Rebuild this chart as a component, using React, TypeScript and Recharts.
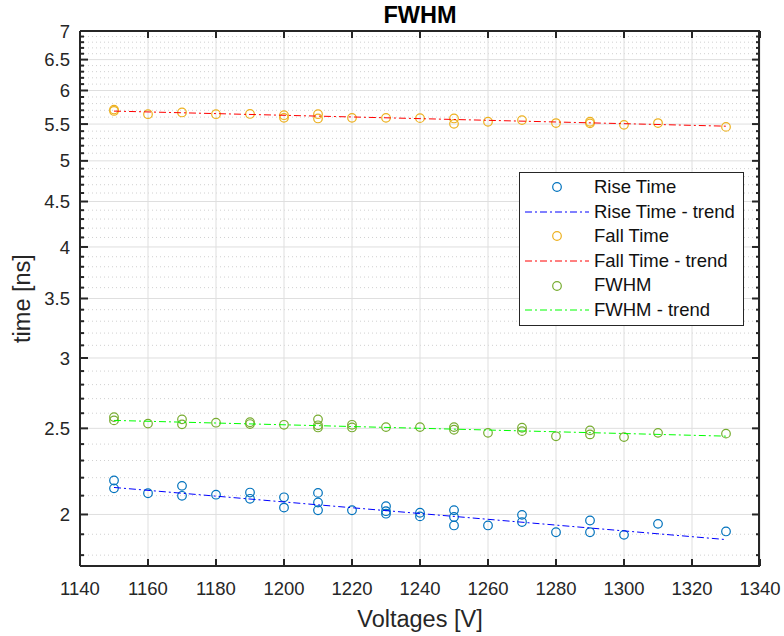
import { ScatterChart, Scatter, XAxis, YAxis, CartesianGrid, Legend } from "recharts";

const FONT = "'Liberation Sans', Arial, Helvetica, sans-serif";
const INK = "#262626";

const xTicks = [1140, 1160, 1180, 1200, 1220, 1240, 1260, 1280, 1300, 1320, 1340];
const yTicks = [2, 2.5, 3, 3.5, 4, 4.5, 5, 5.5, 6, 6.5, 7];
// minor ticks every 0.1 between the labelled ones
const yMinorTicks: number[] = [];
for (let i = 18; i < 70; i++) if (i % 5 !== 0) yMinorTicks.push(i / 10);

const riseVolts = [1150, 1150, 1160, 1170, 1170, 1180, 1190, 1190, 1200, 1200, 1210, 1210, 1210, 1220, 1230, 1230, 1230, 1240, 1240, 1250, 1250, 1250, 1260, 1270, 1270, 1280, 1290, 1290, 1300, 1310, 1330];
const riseTimes = [2.184, 2.14, 2.113, 2.154, 2.099, 2.105, 2.117, 2.083, 2.091, 2.036, 2.115, 2.063, 2.022, 2.022, 2.043, 2.017, 2.004, 2.009, 1.99, 2.022, 1.987, 1.944, 1.944, 1.998, 1.961, 1.91, 1.969, 1.91, 1.897, 1.952, 1.914];

const fallVolts = [1150, 1150, 1160, 1170, 1180, 1190, 1200, 1200, 1210, 1210, 1220, 1230, 1240, 1250, 1250, 1260, 1270, 1280, 1290, 1290, 1300, 1310, 1330];
const fallTimes = [5.71, 5.69, 5.643, 5.668, 5.643, 5.646, 5.628, 5.589, 5.643, 5.581, 5.589, 5.589, 5.585, 5.581, 5.503, 5.533, 5.557, 5.514, 5.533, 5.51, 5.489, 5.514, 5.46];

const fwhmVolts = [1150, 1150, 1160, 1170, 1170, 1180, 1190, 1190, 1200, 1210, 1210, 1210, 1220, 1220, 1230, 1240, 1250, 1250, 1260, 1270, 1270, 1280, 1290, 1290, 1300, 1310, 1330];
const fwhmTimes = [2.574, 2.552, 2.531, 2.559, 2.526, 2.537, 2.54, 2.528, 2.523, 2.559, 2.52, 2.506, 2.523, 2.506, 2.508, 2.508, 2.508, 2.491, 2.471, 2.504, 2.482, 2.449, 2.487, 2.461, 2.444, 2.471, 2.466];

const trendVolts = [1150, 1330];
const riseTrend = [2.145, 1.874];
const fallTrend = [5.688, 5.47];
const fwhmTrend = [2.552, 2.45];

const legendNames = ["Rise Time", "Rise Time - trend", "Fall Time", "Fall Time - trend", "FWHM", "FWHM - trend"];
const legendColors = ["#0072BD", "#0000FF", "#EDB120", "#FF0000", "#77AC30", "#00FF00"];

const toPoints = (vs: number[], ts: number[]) => vs.map((v, i) => ({ v, t: ts[i] }));

const DASH = "7 3 2 3";

const ring = (color: string) => (p: any) =>
  <circle cx={p.cx} cy={p.cy} r={4.3} fill="none" stroke={color} strokeWidth={1.2} />;
const noDot = () => <g />;
// tick={false} drops the ticks entirely (and the grid built on them), so draw empty labels instead
const blankTick = () => <g />;

const tickStyle = { fill: INK, fontSize: 18.5, fontFamily: FONT };
const axisStroke = { stroke: INK, strokeWidth: 2 };
const LABEL_SIZE = 23.5;

const LegendBox = () => (
  <div style={{ border: "1px solid " + INK, background: "#fff", padding: "2px 0", boxSizing: "border-box", width: 225, fontFamily: FONT }}>
    {legendNames.map((name, i) => (
      <div key={name} style={{ display: "flex", alignItems: "center", height: 24.6 }}>
        <svg width={64} height={12} style={{ marginLeft: 5, flexShrink: 0 }}>
          {i % 2 === 0 ? (
            <circle cx={32} cy={6} r={4.3} fill="none" stroke={legendColors[i]} strokeWidth={1.2} />
          ) : (
            <line x1={0} y1={6} x2={64} y2={6} stroke={legendColors[i]} strokeWidth={1} strokeDasharray={DASH} />
          )}
        </svg>
        <span style={{ marginLeft: 5, fontSize: 18.5, color: "#111", lineHeight: 1, whiteSpace: "nowrap" }}>{name}</span>
      </div>
    ))}
  </div>
);

const titleLabel = (p: any) => {
  const vb = p.viewBox || { x: 80, y: 31, width: 680 };
  return (
    <text x={vb.x + vb.width / 2} y={vb.y - 8} textAnchor="middle" fontSize={LABEL_SIZE} fontWeight="bold" fill="#000" fontFamily={FONT}>
      FWHM
    </text>
  );
};

const xLabel = (p: any) => {
  const vb = p.viewBox || { x: 80, y: 566, width: 680 };
  return (
    <text x={vb.x + vb.width / 2} y={vb.y + 61} textAnchor="middle" fontSize={LABEL_SIZE} fill={INK} fontFamily={FONT}>
      Voltages [V]
    </text>
  );
};

const yLabel = (p: any) => {
  const vb = p.viewBox || { x: 20, y: 31, height: 535 };
  const cx = vb.x + 2;
  const cy = vb.y + vb.height / 2;
  return (
    <text x={cx} y={cy} transform={`rotate(-90 ${cx} ${cy})`} textAnchor="middle" dominantBaseline="central" fontSize={LABEL_SIZE} fill={INK} fontFamily={FONT}>
      time [ns]
    </text>
  );
};

const yCommon = {
  type: "number" as const,
  dataKey: "t",
  scale: "log" as const,
  domain: [1.75, 7],
  allowDataOverflow: true,
  interval: 0 as const,
};
const xCommon = {
  type: "number" as const,
  dataKey: "v",
  domain: [1140, 1340],
  ticks: xTicks,
  allowDataOverflow: true,
  interval: 0 as const,
};

// the frame axes only get a scale when some series is bound to them
const frameData = toPoints(trendVolts, fwhmTrend);
const framePairs = [
  ["xt", "yl"],
  ["xb", "minL"],
  ["xt", "yr"],
  ["xb", "minR"],
];

export default function App() {
  return (
    <div style={{ position: "absolute", left: 0, top: 0, background: "#fff", fontFamily: FONT }}>
      <ScatterChart width={784} height={636} margin={{ top: 31, right: 24, bottom: 30, left: 20 }}>
        <CartesianGrid xAxisId="x" yAxisId="minL" vertical={false} stroke="#d0d0d0" strokeDasharray="1 3" />
        <CartesianGrid xAxisId="x" yAxisId="y" stroke="#dfdfdf" />

        <XAxis xAxisId="x" {...xCommon} height={40} tickLine={false} tickSize={0} tickMargin={16} axisLine={axisStroke} tick={tickStyle} label={{ content: xLabel }} />
        <XAxis xAxisId="xt" orientation="top" mirror {...xCommon} height={1} tick={blankTick} tickSize={7} tickLine={axisStroke} axisLine={axisStroke} label={{ content: titleLabel }} />
        <XAxis xAxisId="xb" orientation="bottom" mirror {...xCommon} height={1} tick={blankTick} tickSize={7} tickLine={axisStroke} axisLine={false} />

        <YAxis yAxisId="y" {...yCommon} ticks={yTicks} width={60} tickLine={false} tickSize={0} tickMargin={10} axisLine={axisStroke} tick={tickStyle} label={{ content: yLabel }} />
        <YAxis yAxisId="yl" mirror {...yCommon} ticks={yTicks} width={1} tick={blankTick} tickSize={7} tickLine={axisStroke} axisLine={false} />
        <YAxis yAxisId="minL" mirror {...yCommon} ticks={yMinorTicks} width={1} tick={blankTick} tickSize={4} tickLine={axisStroke} axisLine={false} />
        <YAxis yAxisId="yr" orientation="right" mirror {...yCommon} ticks={yTicks} width={1} tick={blankTick} tickSize={7} tickLine={axisStroke} axisLine={axisStroke} />
        <YAxis yAxisId="minR" orientation="right" mirror {...yCommon} ticks={yMinorTicks} width={1} tick={blankTick} tickSize={4} tickLine={axisStroke} axisLine={false} />

        {framePairs.map(([xa, ya]) => (
          <Scatter key={xa + ya} xAxisId={xa} yAxisId={ya} data={frameData} shape={noDot} legendType="none" isAnimationActive={false} />
        ))}

        <Scatter name="Rise Time" xAxisId="x" yAxisId="y" data={toPoints(riseVolts, riseTimes)} shape={ring("#0072BD")} isAnimationActive={false} />
        <Scatter name="Rise Time - trend" xAxisId="x" yAxisId="y" data={toPoints(trendVolts, riseTrend)} shape={noDot} line={{ stroke: "#0000FF", strokeWidth: 1, strokeDasharray: DASH }} isAnimationActive={false} />
        <Scatter name="Fall Time" xAxisId="x" yAxisId="y" data={toPoints(fallVolts, fallTimes)} shape={ring("#EDB120")} isAnimationActive={false} />
        <Scatter name="Fall Time - trend" xAxisId="x" yAxisId="y" data={toPoints(trendVolts, fallTrend)} shape={noDot} line={{ stroke: "#FF0000", strokeWidth: 1, strokeDasharray: DASH }} isAnimationActive={false} />
        <Scatter name="FWHM" xAxisId="x" yAxisId="y" data={toPoints(fwhmVolts, fwhmTimes)} shape={ring("#77AC30")} isAnimationActive={false} />
        <Scatter name="FWHM - trend" xAxisId="x" yAxisId="y" data={toPoints(trendVolts, fwhmTrend)} shape={noDot} line={{ stroke: "#00FF00", strokeWidth: 1, strokeDasharray: DASH }} isAnimationActive={false} />

        <Legend layout="vertical" align="center" verticalAlign="middle" content={LegendBox} wrapperStyle={{ left: 519, top: 172, width: 225 }} />
      </ScatterChart>
    </div>
  );
}
